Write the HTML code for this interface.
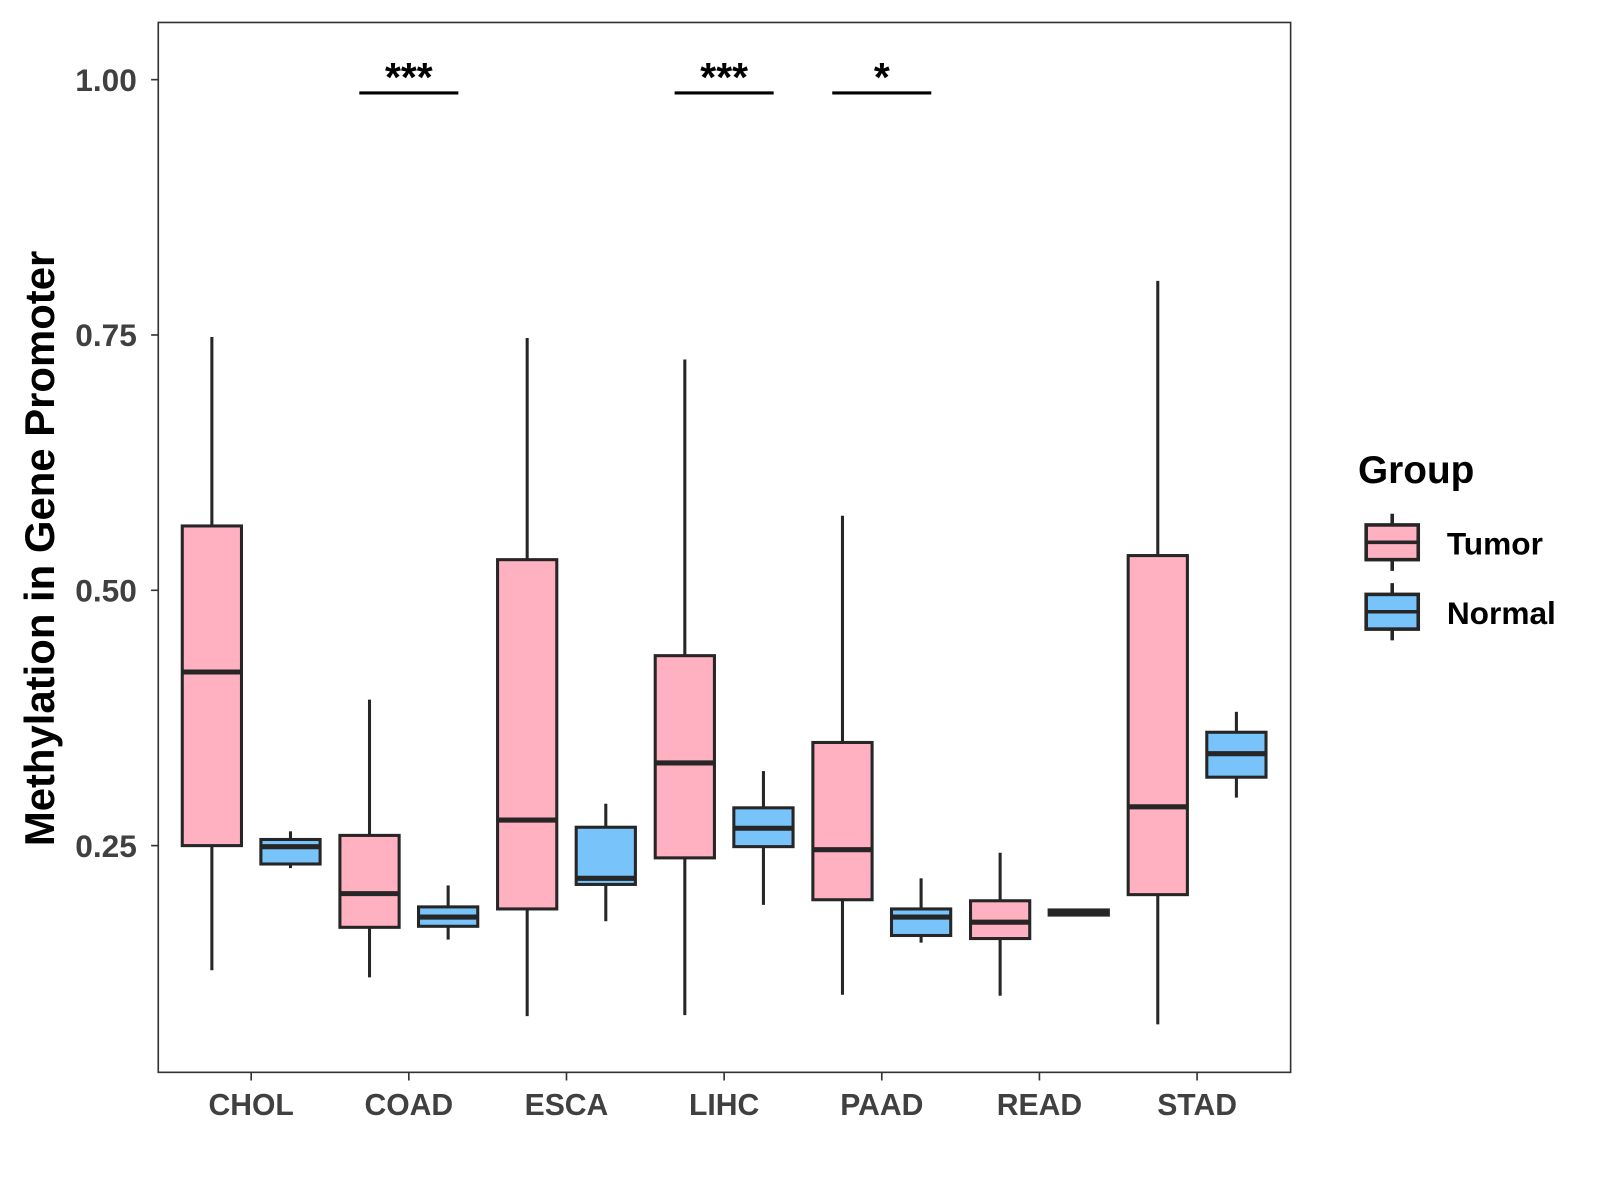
<!DOCTYPE html>
<html><head><meta charset="utf-8"><style>
html,body{margin:0;padding:0;background:#fff}
svg{display:block}
text{font-family:"Liberation Sans",Arial,sans-serif;font-weight:bold}
</style></head><body>
<svg id="chart" width="1600" height="1200" viewBox="0 0 1567 1175" preserveAspectRatio="none" xmlns="http://www.w3.org/2000/svg">
<rect width="1567" height="1175" fill="#fff"/>
<g id="marks"></g>
<rect x="155" y="22" width="1109" height="1028" fill="none" stroke="#333" stroke-width="1.6"/>
<g id="axes"></g>
<text transform="translate(53,537) rotate(-90)" text-anchor="middle" font-size="41" fill="#000">Methylation in Gene Promoter</text>
<g>
<text x="1330" y="473" font-size="38" fill="#000">Group</text>
<g>
<line x1="1363.5" y1="503" x2="1363.5" y2="559" stroke="#262626" stroke-width="3.5"/>
<rect x="1338" y="514" width="51" height="34" fill="#FFB0C1" stroke="#262626" stroke-width="3.5"/>
<line x1="1338" y1="531" x2="1389" y2="531" stroke="#262626" stroke-width="3.5"/>
<text x="1417" y="543" font-size="31" fill="#000">Tumor</text></g>
<g>
<line x1="1363.5" y1="571" x2="1363.5" y2="627" stroke="#262626" stroke-width="3.5"/>
<rect x="1338" y="582" width="51" height="34" fill="#77C3FA" stroke="#262626" stroke-width="3.5"/>
<line x1="1338" y1="599" x2="1389" y2="599" stroke="#262626" stroke-width="3.5"/>
<text x="1417" y="611" font-size="31" fill="#000">Normal</text></g>
</g>
</svg>
<script>
const categories=["CHOL","COAD","ESCA","LIHC","PAAD","READ","STAD"];
// [whiskerLow, q1, median, q3, whiskerHigh]
const tumorStats=[[0.128,0.25,0.42,0.563,0.748],[0.121,0.17,0.203,0.26,0.393],[0.083,0.188,0.275,0.53,0.747],[0.084,0.238,0.331,0.436,0.726],[0.104,0.197,0.246,0.351,0.573],[0.103,0.159,0.175,0.196,0.243],[0.075,0.202,0.288,0.534,0.803]];
const normalStats=[[0.228,0.232,0.249,0.256,0.264],[0.158,0.171,0.18,0.19,0.211],[0.176,0.212,0.218,0.268,0.291],[0.192,0.249,0.267,0.287,0.323],[0.155,0.162,0.18,0.188,0.218],[0.182,0.182,0.184,0.187,0.187],[0.297,0.317,0.34,0.361,0.381]];
const yTicks=[0.25,0.5,0.75,1.0];
const yTickLabels=["0.25","0.50","0.75","1.00"];
const sigCategories=["COAD","LIHC","PAAD"];
const sigLabels=["***","***","*"];
const sigLevel=0.988;

const NS="http://www.w3.org/2000/svg";
const y=v=>1078-1000*v;
const x=i=>246+154.4*i;
function mk(tag,attrs,parent){const e=document.createElementNS(NS,tag);for(const k in attrs)e.setAttribute(k,attrs[k]);parent.appendChild(e);return e;}
const marks=document.getElementById('marks'),axes=document.getElementById('axes');
const bw=58,off=38.5;
function drawBox(s,cx,fill,name){
  const g=mk('g',{},marks);
  
  
  mk('line',{x1:cx,x2:cx,y1:y(s[4]),y2:y(s[3]),stroke:'#262626','stroke-width':3},g);
  mk('line',{x1:cx,x2:cx,y1:y(s[1]),y2:y(s[0]),stroke:'#262626','stroke-width':3},g);
  mk('rect',{x:cx-bw/2,y:y(s[3]),width:bw,height:Math.max(y(s[1])-y(s[3]),0.5),fill:fill,stroke:'#262626','stroke-width':3},g);
  mk('line',{x1:cx-bw/2,x2:cx+bw/2,y1:y(s[2]),y2:y(s[2]),stroke:'#262626','stroke-width':5},g);
}
categories.forEach((c,i)=>{
  drawBox(tumorStats[i],x(i)-off,'#FFB0C1','box-tumor-'+c.toLowerCase());
  drawBox(normalStats[i],x(i)+off,'#77C3FA','box-normal-'+c.toLowerCase());
  const t=mk('line',{x1:x(i),x2:x(i),y1:1050,y2:1058,stroke:'#333','stroke-width':1.6},axes);
  
  
  const l=mk('text',{x:x(i),y:1092,'text-anchor':'middle','font-size':29.5,fill:'#404040'},axes);
  
  
  l.textContent=c;
});
yTicks.forEach((v,i)=>{
  const t=mk('line',{x1:148,x2:155,y1:y(v),y2:y(v),stroke:'#333','stroke-width':1.6},axes);
  
  
  const l=mk('text',{x:134,y:y(v)+11,'text-anchor':'end','font-size':31,fill:'#404040'},axes);
  
  
  l.textContent=yTickLabels[i];
});
sigCategories.forEach((c,k)=>{
  const i=categories.indexOf(c);
  const g=mk('g',{},marks);
  
  
  mk('line',{x1:x(i)-off-10,x2:x(i)+off+10,y1:y(sigLevel)+1,y2:y(sigLevel)+1,stroke:'#000','stroke-width':3},g);
  const t=mk('text',{x:x(i),y:y(sigLevel)-1,'text-anchor':'middle','font-size':40,fill:'#000'},g);
  t.textContent=sigLabels[k];
});
</script>
</body></html>
